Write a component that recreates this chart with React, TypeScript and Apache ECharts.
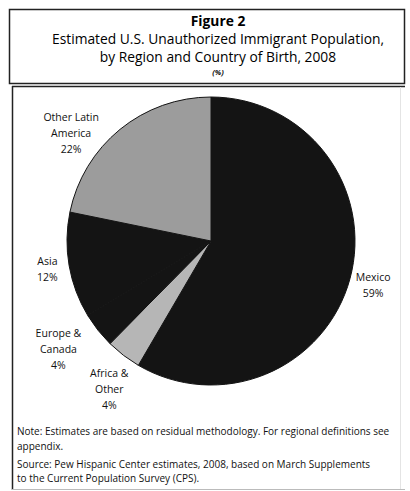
import React, { useEffect, useRef } from "react";
import * as echarts from "echarts";

const categories = ["Mexico", "Africa & Other", "Europe & Canada", "Asia", "Other Latin America"];
const labelNames = ["Mexico", "Africa &\nOther", "Europe &\nCanada", "Asia", "Other Latin\nAmerica"];
const values = [59, 4, 4, 12, 22];
const colors = ["#141414", "#b6b6b6", "#141414", "#141414", "#9c9c9c"];

const titleLines = [
  "Figure 2",
  "Estimated U.S. Unauthorized Immigrant Population,",
  "by Region and Country of Birth, 2008",
  "(%)",
];
const noteLines = [
  "Note: Estimates are based on residual methodology. For regional definitions see",
  "appendix.",
  "Source: Pew Hispanic Center estimates, 2008, based on March Supplements",
  "to the Current Population Survey (CPS).",
];

const FONT = "'Open Sans', 'Noto Sans', sans-serif";
const CENTER = [211, 241];
const RADIUS = 144;
const TITLE_X = 213;
// per-label placement tweaks (radial distance from centre, angle nudge in degrees)
const LABEL_PLACE = [
  { r: 168, a: 0 },
  { r: 180, a: -3 },
  { r: 187, a: 3 },
  { r: 166, a: 0 },
  { r: 177, a: -13 },
];

export default function App() {
  const ref = useRef<HTMLDivElement>(null);
  useEffect(() => {
    if (!ref.current) return;
    const chart = echarts.init(ref.current, null, { renderer: "svg" });
    const total = values.reduce((a, b) => a + b, 0);
    const mids: number[] = [];
    let cum = 0;
    values.forEach((v) => {
      mids.push(((cum + v / 2) / total) * 360);
      cum += v;
    });

    const option: any = {
      animation: false,
      backgroundColor: "#ffffff",
      title: [
        { text: titleLines[0], left: TITLE_X, textAlign: "center", top: 8, textStyle: { fontFamily: FONT, fontSize: 13.8, fontWeight: "bold", color: "#000" } },
        { text: titleLines[1], left: TITLE_X, textAlign: "center", top: 26, textStyle: { fontFamily: FONT, fontSize: 13.8, fontWeight: "normal", color: "#000" } },
        { text: titleLines[2], left: TITLE_X, textAlign: "center", top: 44, textStyle: { fontFamily: FONT, fontSize: 13.8, fontWeight: "normal", color: "#000" } },
        { text: titleLines[3], left: TITLE_X, textAlign: "center", top: 63, textStyle: { fontFamily: FONT, fontSize: 7.5, fontStyle: "italic", fontWeight: "bold", color: "#111" } },
      ],
      graphic: [
        { type: "rect", shape: { x: 9.5, y: 9.5, width: 395, height: 74 }, style: { fill: "none", stroke: "#222", lineWidth: 1.5 }, silent: true },
        { type: "line", shape: { x1: 12, y1: 86.5, x2: 405, y2: 86.5 }, style: { stroke: "#222", lineWidth: 1.5 }, silent: true },
        { type: "line", shape: { x1: 12.5, y1: 86, x2: 12.5, y2: 490 }, style: { stroke: "#222", lineWidth: 1.5 }, silent: true },
        { type: "line", shape: { x1: 12, y1: 489.5, x2: 405, y2: 489.5 }, style: { stroke: "#bbb", lineWidth: 1 }, silent: true },
        { type: "line", shape: { x1: 400.5, y1: 87, x2: 400.5, y2: 489 }, style: { stroke: "#e4e4e4", lineWidth: 1 }, silent: true },
        ...noteLines.map((t, i) => ({
          type: "text",
          left: 17,
          top: [426, 441, 459, 473][i],
          style: { text: t, font: `10px ${FONT}`, fill: "#111" },
          silent: true,
        })),
      ],
      series: [
        {
          type: "pie",
          center: CENTER,
          radius: RADIUS,
          startAngle: 90,
          clockwise: true,
          avoidLabelOverlap: false,
          itemStyle: { borderColor: "#141414", borderWidth: 1 },
          emphasis: { disabled: true },
          label: {
            show: true,
            position: "outside",
            fontFamily: FONT,
            fontSize: 10.5,
            lineHeight: 16,
            color: "#111",
            formatter: (p: any) =>
              (labelNames[p.dataIndex] + "\n" + p.value + "%")
                .split("\n")
                .map((s: string) => `{c|${s}}`)
                .join("\n"),
            rich: { c: { align: "center", fontFamily: FONT, fontSize: 10.5, lineHeight: 16, color: "#111" } },
          },
          labelLine: { show: false },
          labelLayout: (p: any) => {
            const i = p.dataIndex;
            const ang = ((mids[i] + LABEL_PLACE[i].a) * Math.PI) / 180;
            const r = LABEL_PLACE[i].r;
            return {
              x: CENTER[0] + r * Math.sin(ang),
              y: CENTER[1] - r * Math.cos(ang),
              align: "center",
              verticalAlign: "middle",
            };
          },
          data: categories.map((c, i) => ({ name: c, value: values[i], itemStyle: { color: colors[i] } })),
        },
      ],
    };
    chart.setOption(option);
    return () => chart.dispose();
  }, []);
  return <div ref={ref} style={{ position: "absolute", left: 0, top: 0, width: 410, height: 491 }} />;
}
